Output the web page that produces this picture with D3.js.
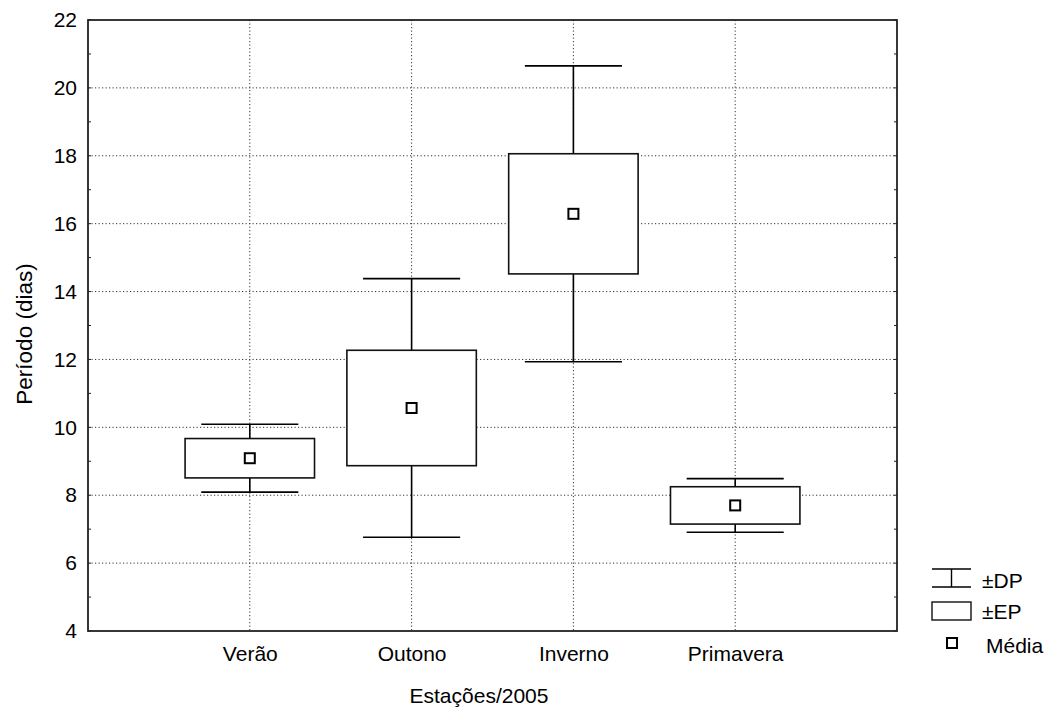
<!DOCTYPE html>
<html>
<head>
<meta charset="utf-8">
<script src="https://cdn.jsdelivr.net/npm/d3@7"></script>
<style>
  html, body { margin: 0; padding: 0; background: #fff; }
  svg { display: block; font-family: "Liberation Sans", Arial, sans-serif; }
</style>
</head>
<body>
<svg id="chart" width="1049" height="711"></svg>
<script>
// Seasons of 2005 and the period (days) statistics per season
const seasons = ["Verão", "Outono", "Inverno", "Primavera"];
const means = [9.09, 10.57, 16.29, 7.70];        // Média
const stdErrors = [0.58, 1.70, 1.77, 0.55];      // ±EP
const stdDevs = [1.00, 3.81, 4.36, 0.79];        // ±DP
const yTicks = [4, 6, 8, 10, 12, 14, 16, 18, 20, 22];
const yMinorTicks = [5, 7, 9, 11, 13, 15, 17, 19, 21];
const legendLabels = ["±DP", "±EP", "Média"];

const data = seasons.map((s, i) => ({ season: s, mean: means[i], se: stdErrors[i], sd: stdDevs[i] }));

const svg = d3.select("#chart");
const plot = { left: 88, right: 897, top: 20, bottom: 631 };
const fontFamily = "Liberation Sans, Arial, sans-serif";

const x = d3.scalePoint().domain(seasons).range([plot.left, plot.right]).padding(1);
const y = d3.scaleLinear().domain([4, 22]).range([plot.bottom, plot.top]);
const step = x.step();
const boxW = step * 0.8;
const capW = step * 0.6;

// dotted grid
const grid = svg.append("g").attr("stroke", "#333").attr("stroke-width", 1)
  .attr("stroke-dasharray", "1.2,2.3");
grid.selectAll("line.h").data(yTicks.slice(1, -1)).join("line")
  .attr("x1", plot.left).attr("x2", plot.right)
  .attr("y1", d => y(d)).attr("y2", d => y(d));
grid.selectAll("line.v").data(seasons).join("line")
  .attr("y1", plot.top).attr("y2", plot.bottom)
  .attr("x1", d => x(d)).attr("x2", d => x(d));

// left axis with labels
const yAxis = d3.axisLeft(y).tickValues(yTicks).tickSize(0).tickPadding(11);
const gy = svg.append("g").attr("transform", `translate(${plot.left},0)`).call(yAxis);
gy.select(".domain").remove();
gy.selectAll("text").attr("font-size", 21).attr("fill", "#000").attr("font-family", fontFamily);

// inward minor/major ticks on both vertical axes
const tickG = svg.append("g").attr("stroke", "#222").attr("stroke-width", 1);
[plot.left, plot.right].forEach((px, k) => {
  const dir = k === 0 ? 1 : -1;
  tickG.append("g").selectAll("line").data(yMinorTicks.concat(yTicks)).join("line")
    .attr("x1", px).attr("x2", px + dir * 3)
    .attr("y1", d => y(d)).attr("y2", d => y(d));
});

// bottom axis labels
const xAxis = d3.axisBottom(x).tickSize(0).tickPadding(15);
const gx = svg.append("g").attr("transform", `translate(0,${plot.bottom})`).call(xAxis);
gx.select(".domain").remove();
gx.selectAll("text").attr("font-size", 21).attr("fill", "#000").attr("font-family", fontFamily);

// ±DP whiskers
const marks = svg.append("g");
const whisk = marks.selectAll("g.w").data(data).join("g").attr("stroke", "#000").attr("stroke-width", 1.6);
whisk.append("line")
  .attr("x1", d => x(d.season)).attr("x2", d => x(d.season))
  .attr("y1", d => y(d.mean + d.sd)).attr("y2", d => y(d.mean - d.sd));
whisk.append("line")
  .attr("x1", d => x(d.season) - capW / 2).attr("x2", d => x(d.season) + capW / 2)
  .attr("y1", d => y(d.mean + d.sd)).attr("y2", d => y(d.mean + d.sd));
whisk.append("line")
  .attr("x1", d => x(d.season) - capW / 2).attr("x2", d => x(d.season) + capW / 2)
  .attr("y1", d => y(d.mean - d.sd)).attr("y2", d => y(d.mean - d.sd));

// ±EP boxes
marks.selectAll("rect.box").data(data).join("rect")
  .attr("x", d => x(d.season) - boxW / 2)
  .attr("width", boxW)
  .attr("y", d => y(d.mean + d.se))
  .attr("height", d => y(d.mean - d.se) - y(d.mean + d.se))
  .attr("fill", "#fff").attr("stroke", "#111").attr("stroke-width", 1.6);

// mean markers
const ms = 10;
marks.selectAll("rect.mean").data(data).join("rect")
  .attr("x", d => x(d.season) - ms / 2)
  .attr("y", d => y(d.mean) - ms / 2)
  .attr("width", ms).attr("height", ms)
  .attr("fill", "#fff").attr("stroke", "#000").attr("stroke-width", 2);

// frame
svg.append("rect")
  .attr("x", plot.left).attr("y", plot.top)
  .attr("width", plot.right - plot.left).attr("height", plot.bottom - plot.top)
  .attr("fill", "none").attr("stroke", "#222").attr("stroke-width", 1.8);

// axis titles
svg.append("text")
  .attr("x", 479).attr("y", 703)
  .attr("text-anchor", "middle").attr("font-size", 21)
  .text("Estações/2005");
svg.append("text")
  .attr("transform", `translate(32,334) rotate(-90)`)
  .attr("text-anchor", "middle").attr("font-size", 22.5)
  .text("Período (dias)");

// legend
const lg = svg.append("g").attr("font-size", 21);
const lx0 = 932, lx1 = 971;
const dpY = [569, 587];
lg.append("line").attr("x1", lx0).attr("x2", lx1).attr("y1", dpY[0]).attr("y2", dpY[0]).attr("stroke", "#000").attr("stroke-width", 1.4);
lg.append("line").attr("x1", lx0).attr("x2", lx1).attr("y1", dpY[1]).attr("y2", dpY[1]).attr("stroke", "#000").attr("stroke-width", 1.4);
lg.append("line").attr("x1", (lx0 + lx1) / 2).attr("x2", (lx0 + lx1) / 2).attr("y1", dpY[0]).attr("y2", dpY[1]).attr("stroke", "#000").attr("stroke-width", 1.4);
lg.append("rect").attr("x", lx0).attr("y", 602).attr("width", lx1 - lx0).attr("height", 18)
  .attr("fill", "#fff").attr("stroke", "#111").attr("stroke-width", 1.4);
lg.append("rect").attr("x", 947).attr("y", 638).attr("width", 10).attr("height", 10)
  .attr("fill", "#fff").attr("stroke", "#000").attr("stroke-width", 2);
const legendY = [588, 619, 653];
const legendX = [982, 982, 986];
lg.selectAll("text").data(legendLabels).join("text")
  .attr("x", (d, i) => legendX[i]).attr("y", (d, i) => legendY[i])
  .text(d => d);
</script>
</body>
</html>
